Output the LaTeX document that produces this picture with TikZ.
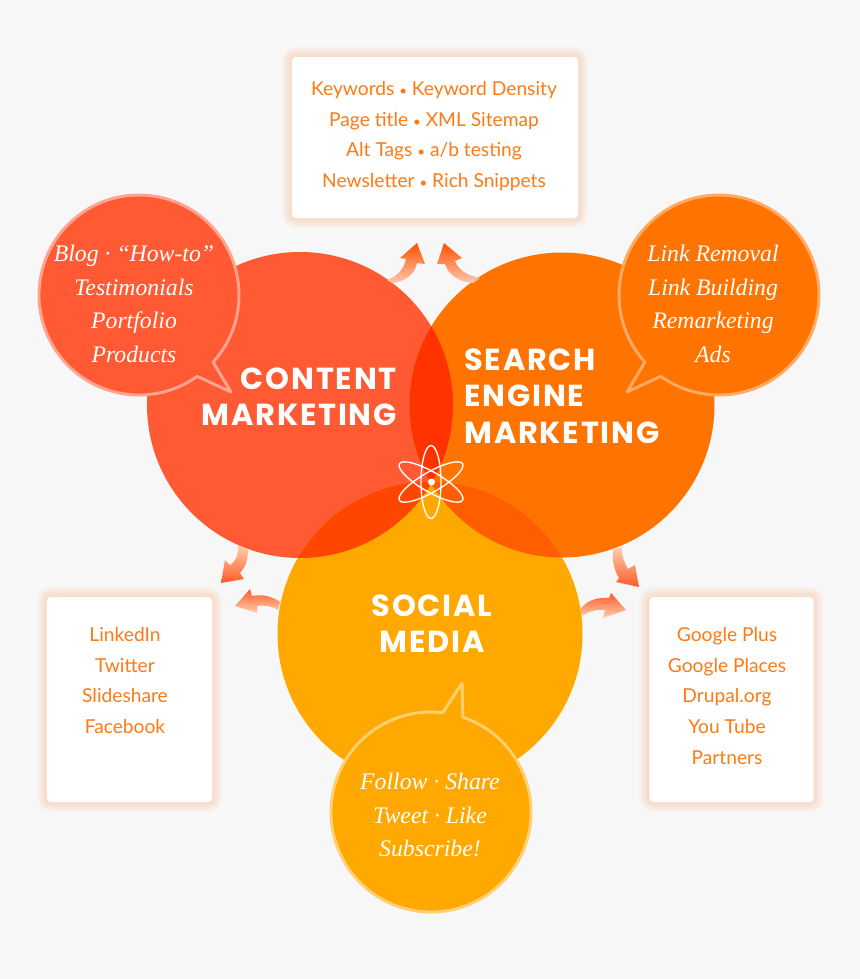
\documentclass[tikz,border=0pt]{standalone}
\usepackage{fontspec}
\setmainfont{Lato}
\newfontfamily\headfont[LetterSpace=6]{Poppins}
\newfontfamily\bubfont{Liberation Serif}
\usetikzlibrary{calc}
\definecolor{bgc}{HTML}{F7F7F7}
\definecolor{contentc}{HTML}{FF5A33}
\definecolor{semc}{HTML}{FF7300}
\definecolor{socialc}{HTML}{FFA800}
\definecolor{csem}{HTML}{FF3300}
\definecolor{csoc}{HTML}{FF4600}
\definecolor{ssoc}{HTML}{FF5E00}
\definecolor{triple}{HTML}{FF3C00}
\definecolor{boxtext}{HTML}{FF7A14}
\definecolor{glowc}{HTML}{FF9A55}
\definecolor{arrA}{HTML}{FF5000}
\definecolor{arrB}{HTML}{FF5A28}
\definecolor{paleA}{HTML}{FFC8AE}
\definecolor{paleB}{HTML}{FFD0AE}
\newcommand{\smbul}{{\fontsize{10}{0}\selectfont •}}
\tikzset{
  x=0.75pt,y=-0.75pt,
  glowring/.style={preaction={draw=glowc,line width=#1,opacity=.04,rounded corners=3pt}},
  glowbox/.style={fill=white,rounded corners=3pt,inner sep=0pt,
    glowring=15pt,glowring=13pt,glowring=11pt,glowring=9pt,glowring=7pt,glowring=5pt,glowring=3pt},
  boxtxt/.style={text=boxtext,font=\fontsize{14.4}{22.9}\selectfont,align=center,anchor=north,inner sep=0pt},
  headtxt/.style={text=white,font=\headfont\bfseries\fontsize{22.8}{27.2}\selectfont,inner sep=0pt},
  bubtxt/.style={text=white,font=\bubfont\itshape\fontsize{17.8}{25.1}\selectfont,align=center,anchor=north,inner sep=0pt},
  bubble/.style={line width=2.2pt,line join=round},
  atomring/.style={draw=white,line width=1pt},
}
\newcommand{\gradarrow}[4]{\shade[shading angle=#1,top color=#2,bottom color=#3] #4;}
\begin{document}
\begin{tikzpicture}
\useasboundingbox (0,0) rectangle (860,979);
\fill[bgc] (0,0) rectangle (860,979);
% main circles
\fill[contentc] (300,405) circle (153);
\fill[semc] (562,405) circle (152.5);
\fill[socialc] (430,634) circle (152.5);
\begin{scope}\clip (300,405) circle (153); \fill[csem] (562,405) circle (152.5);\end{scope}
\begin{scope}\clip (300,405) circle (153); \fill[csoc] (430,634) circle (152.5);\end{scope}
\begin{scope}\clip (562,405) circle (152.5); \fill[ssoc] (430,634) circle (152.5);\end{scope}
\begin{scope}\clip (300,405) circle (153); \clip (562,405) circle (152.5); \fill[triple] (430,634) circle (152.5);\end{scope}
% boxes
\node[glowbox,minimum width=214.5pt,minimum height=120.75pt] (kw) at (435,137.5) {};
\node[glowbox,minimum width=123.75pt,minimum height=153.75pt] (li) at (129.5,699.5) {};
\node[glowbox,minimum width=123pt,minimum height=153.75pt] (gp) at (731.5,699.5) {};
\node[boxtxt] (kwt) at (434,81.5) {Keywords \smbul{} Keyword Density\\Page title \smbul{} XML Sitemap\\Alt Tags \smbul{} a/b testing\\Newsletter \smbul{} Rich Snippets};
\node[boxtxt] (lit) at (125,627.5) {LinkedIn\\Twitter\\Slideshare\\Facebook};
\node[boxtxt] (gpt) at (727,627.5) {Google Plus\\Google Places\\Drupal.org\\You Tube\\Partners};
% arrows
\gradarrow{-35}{arrA}{paleA}{(417,243) -- (400,258) -- (406,259) .. controls (404,270) and (396,277) .. (387,280) -- (392,283) .. controls (405,282) and (415,274) .. (417,263) -- (425,264) -- cycle}
\gradarrow{35}{arrA}{paleA}{(444,243) -- (462,258) -- (455,261) .. controls (458,270) and (468,276) .. (480,278) -- (473,283) .. controls (458,282) and (448,274) .. (445,264) -- (437,264) -- cycle}
\gradarrow{0}{paleB}{arrB}{(221,583) -- (225,560) -- (230,565) .. controls (237,560) and (239,552) .. (238,545) -- (248,550) .. controls (248,560) and (245,568) .. (240,573) -- (244,579) -- cycle}
\gradarrow{90}{arrB}{paleB}{(235,606) -- (250,589) -- (252,596) .. controls (262,594) and (272,596) .. (280,602) -- (278,610) .. controls (272,606) and (265,605) .. (257,606) -- (257,613) -- cycle}
\gradarrow{0}{paleB}{arrB}{(639,587) -- (635,565) -- (628,569) .. controls (624,562) and (621,555) .. (622,547) -- (613,550) .. controls (612,560) and (614,570) .. (619,578) -- (616,582) -- cycle}
\gradarrow{-90}{arrB}{paleB}{(626,610) -- (611,593) -- (609,598) .. controls (598,597) and (588,600) .. (581,608) -- (582,616) .. controls (589,611) and (597,609) .. (605,610) -- (603,618) -- cycle}
% speech bubbles
\draw[bubble,fill=contentc,draw=contentc!55!white] ($(139,295)+(54.4:100)$) arc[start angle=54.4,end angle=402.2,radius=100] -- (231,392) -- cycle;
\draw[bubble,fill=semc,draw=semc!60!white] ($(719,295)+(137.8:100)$) arc[start angle=137.8,end angle=485.6,radius=100] -- (627,392) -- cycle;
\draw[bubble,fill=socialc,draw=socialc!55!white] ($(431,812)+(288.6:100)$) arc[start angle=288.6,end angle=636.8,radius=100] -- (462,683) -- cycle;
% atom
\draw[atomring] (431,482) ellipse [x radius=10,y radius=36.5];
\draw[atomring,rotate around={60:(431,482)}] (431,482) ellipse [x radius=10,y radius=36.5];
\draw[atomring,rotate around={-60:(431,482)}] (431,482) ellipse [x radius=10,y radius=36.5];
\fill[white] (431.5,482) circle (3.5);
% headings
\node[headtxt,align=right,anchor=east] (cm) at (397,397) {CONTENT\\MARKETING};
\node[headtxt,align=left,anchor=west] (se) at (464,396) {SEARCH\\ENGINE\\MARKETING};
\node[headtxt,align=center] (sm) at (432,624) {SOCIAL\\MEDIA};
% bubble text
\node[bubtxt] (bt) at (134,245) {Blog · “How-to”\\Testimonials\\Portfolio\\Products};
\node[bubtxt] (rt) at (713,245) {Link Removal\\Link Building\\Remarketing\\Ads};
\node[bubtxt] (ft) at (430,773) {Follow · Share\\Tweet · Like\\Subscribe!};
\end{tikzpicture}
\end{document}
